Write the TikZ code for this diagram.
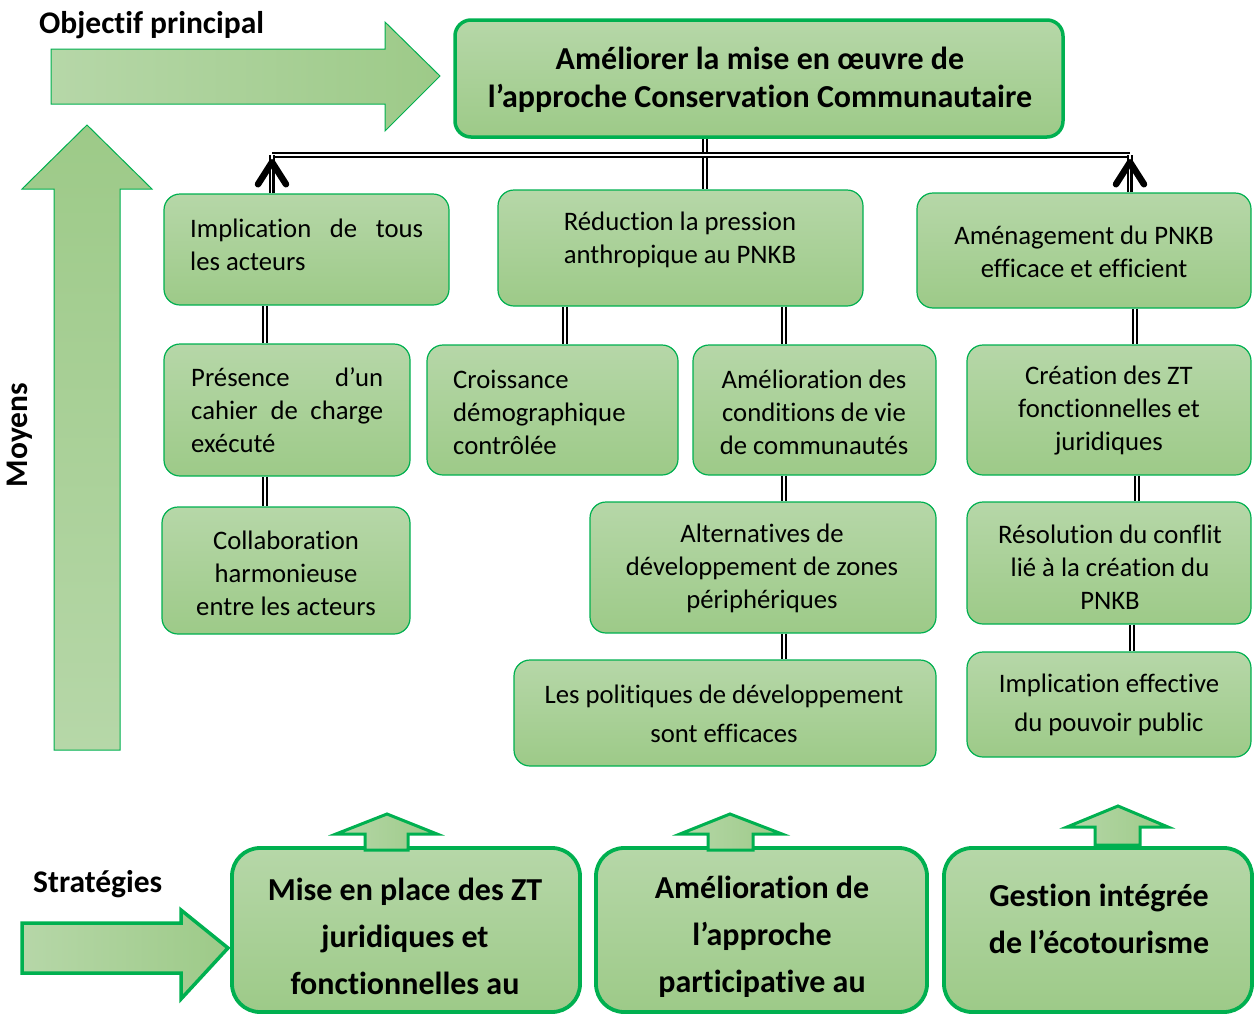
\documentclass[tikz,border=0pt]{standalone}
\usepackage{fontspec}
\setmainfont{Carlito}[Ligatures={NoCommon}]
\usetikzlibrary{arrows.meta}
\definecolor{gb}{HTML}{00B050}
\definecolor{ftop}{HTML}{B6D7A8}
\definecolor{fbot}{HTML}{9DCA88}
\begin{document}
\begin{tikzpicture}[x=1pt,y=-1pt,
  box/.style={draw=gb,line width=1.2pt,rounded corners=16pt,top color=ftop,bottom color=fbot,inner sep=0pt},
  bigbox/.style={box,line width=3.8pt,rounded corners=28pt},
  bodytxt/.style={font=\fontsize{26.7}{33}\selectfont,inner sep=0pt,align=center},
  headtxt/.style={font=\bfseries\fontsize{32}{38}\selectfont,inner sep=0pt,align=center},
  strtxt/.style={font=\bfseries\fontsize{32}{47}\selectfont,inner sep=0pt,align=center},
  labtxt/.style={font=\bfseries\fontsize{31.5}{34}\selectfont,inner sep=0pt},
  dbl/.style={draw=black,line width=1.9pt,double=white,double distance=2.4pt},
  barb/.style={draw=black,line width=0.1pt,-{Straight Barb[round,length=22pt,width=28pt,line width=6.5pt]}},
  bigarrow/.style={draw=gb,line width=1pt,left color=ftop,right color=fbot},
]
\useasboundingbox (0,0) rectangle (1254,1015);
\clip (0,0) rectangle (1254,1015);

% ---- big arrows
\path[bigarrow] (51,49) -- (385,49) -- (385,22) -- (440,76) -- (385,131) -- (385,104) -- (51,104) -- cycle;
\path[draw=gb,line width=1pt,top color=fbot,bottom color=ftop] (54,750) -- (54,189) -- (22,189) -- (87,125) -- (152,189) -- (120,189) -- (120,750) -- cycle;
\path[draw=gb,line width=3.5pt,left color=ftop,right color=fbot] (22,923) -- (181,923) -- (181,910) -- (228,948) -- (181,999) -- (181,973) -- (22,973) -- cycle;

% ---- labels
\node[labtxt,anchor=west] (obj) at (39,25) {Objectif principal};
\node[labtxt,rotate=90] (moy) at (20,435) {Moyens};
\node[labtxt,anchor=west] (strat) at (33,884) {Stratégies};

% ---- main box
\node[box,line width=3.5pt,minimum width=608pt,minimum height=117pt] (main) at (759,78.5) {};
\node[headtxt] (maint) at (760,80) {Améliorer la mise en œuvre de\\l’approche Conservation Communautaire};

% ---- level 1
\node[box,minimum width=285pt,minimum height=111pt] (A1) at (306.5,249.5) {};
\node[bodytxt,align=left,anchor=west] (A1t) at (190,244.5) {\makebox[233pt][s]{Implication de tous}\\les acteurs};
\node[box,minimum width=365pt,minimum height=116pt] (A2) at (680.5,248) {};
\node[bodytxt] (A2t) at (680,240) {Réduction la pression\\anthropique au PNKB};
\node[box,minimum width=334pt,minimum height=115pt] (A3) at (1084,250.5) {};
\node[bodytxt] (A3t) at (1084,252) {Aménagement du PNKB\\efficace et efficient};

% ---- level 2
\node[box,minimum width=246pt,minimum height=132pt] (B1) at (287,410) {};
\node[bodytxt,align=left,anchor=west] (B1t) at (191,410.5) {\makebox[192pt][s]{Présence d’un}\\\makebox[192pt][s]{cahier de charge}\\exécuté};
\node[box,minimum width=251pt,minimum height=130pt] (B2) at (552.5,410) {};
\node[bodytxt,align=left,anchor=west] (B2t) at (453,412) {Croissance\\démographique\\contrôlée};
\node[box,minimum width=243pt,minimum height=130pt] (B3) at (814.5,410) {};
\node[bodytxt] (B3t) at (814,412) {Amélioration des\\conditions de vie\\de communautés};
\node[box,minimum width=284pt,minimum height=130pt] (B4) at (1109,410) {};
\node[bodytxt] (B4t) at (1109,411) {Création des ZT\\fonctionnelles et\\juridiques};

% ---- level 3
\node[box,minimum width=248pt,minimum height=127pt] (C1) at (286,570.5) {};
\node[bodytxt] (C1t) at (286,573) {Collaboration\\harmonieuse\\entre les acteurs};
\node[box,minimum width=346pt,minimum height=131pt] (C3) at (763,567.5) {};
\node[bodytxt] (C3t) at (762,568) {Alternatives de\\développement de zones\\périphériques};
\node[box,minimum width=284pt,minimum height=122pt] (C4) at (1109,563) {};
\node[bodytxt] (C4t) at (1110,567.5) {Résolution du conflit\\lié à la création du\\PNKB};

% ---- level 4
\node[box,minimum width=422pt,minimum height=106pt] (D3) at (725,713) {};
\node[bodytxt,font=\fontsize{26.7}{39}\selectfont] (D3t) at (724,713.5) {Les politiques de développement\\sont efficaces};
\node[box,minimum width=284pt,minimum height=105pt] (D4) at (1109,704.5) {};
\node[bodytxt,font=\fontsize{26.7}{39}\selectfont] (D4t) at (1109,704.5) {Implication effective\\du pouvoir public};

% ---- connectors
\coordinate (hl) at (272,155);
\coordinate (hr) at (1130,155);
\coordinate (vm) at (705,0);
\draw[dbl] (main.south -| vm) -- (A2.north -| vm);
\draw[dbl] (hl) -- (hr);
\draw[dbl] (A1.north -| hl) -- (hl);
\draw[dbl] (A3.north -| hr) -- (hr);
\draw[barb] (A1.north -| hl) -- ([yshift=-4pt]hl);
\draw[barb] (A3.north -| hr) -- ([yshift=-4pt]hr);
\coordinate (x1) at (265,0);
\coordinate (x2) at (565,0);
\coordinate (x3) at (784,0);
\coordinate (x4) at (1135,0);
\coordinate (x5) at (1137,0);
\coordinate (x6) at (1132,0);
\draw[dbl] (A1.south -| x1) -- (B1.north -| x1);
\draw[dbl] (B1.south -| x1) -- (C1.north -| x1);
\draw[dbl] (A2.south -| x2) -- (B2.north -| x2);
\draw[dbl] (A2.south -| x3) -- (B3.north -| x3);
\draw[dbl] (B3.south -| x3) -- (C3.north -| x3);
\draw[dbl] (C3.south -| x3) -- (D3.north -| x3);
\draw[dbl] (A3.south -| x4) -- (B4.north -| x4);
\draw[dbl] (B4.south -| x5) -- (C4.north -| x5);
\draw[dbl] (C4.south -| x6) -- (D4.north -| x6);

% ---- strategy boxes
\node[bigbox,minimum width=348pt,minimum height=164pt] (E1) at (406,930) {};
\node[bigbox,minimum width=331pt,minimum height=164pt] (E2) at (761.5,930) {};
\node[bigbox,minimum width=308pt,minimum height=164pt] (E3) at (1098,930) {};
\begin{scope}
\clip (232,850) rectangle (1254,996);
\node[strtxt] (E1t) at (405,936) {Mise en place des ZT\\juridiques et\\fonctionnelles au};
\node[strtxt] (E2t) at (762,936.5) {Amélioration de\\l’approche\\participative au};
\end{scope}
\node[strtxt] (E3t) at (1099,918.5) {Gestion intégrée\\de l’écotourisme};

% ---- small up arrows
\path[draw=gb,line width=3pt,left color=ftop,right color=fbot] (365,850) -- (365,834) -- (336,834) -- (387,814) -- (437,834) -- (408,834) -- (408,850) -- cycle;
\path[draw=gb,line width=3pt,left color=ftop,right color=fbot] (708,850) -- (708,834) -- (680,834) -- (730,814) -- (782,834) -- (753,834) -- (753,850) -- cycle;
\path[draw=gb,line width=3pt,left color=ftop,right color=fbot] (1095,845) -- (1095,827) -- (1067,827) -- (1118,806) -- (1168,827) -- (1140,827) -- (1140,845) -- cycle;
\end{tikzpicture}
\end{document}
